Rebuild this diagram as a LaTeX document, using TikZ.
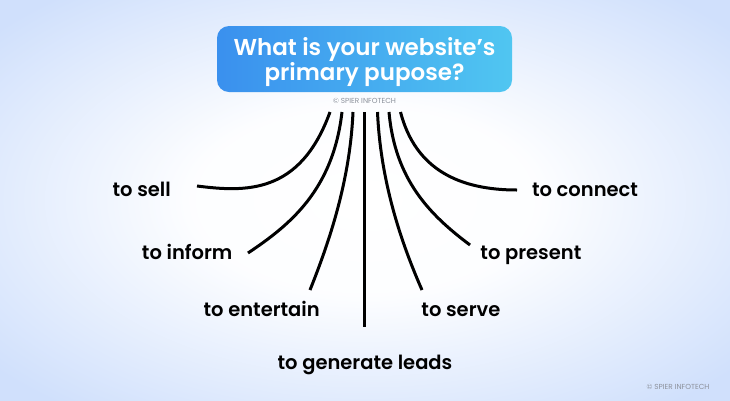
\documentclass[tikz,border=0pt]{standalone}
\usepackage{fontspec}
\setmainfont{Poppins}[BoldFont={Poppins SemiBold}]
\usepackage{xcolor}
\usepackage{tikz}
\usetikzlibrary{positioning,calc}

\definecolor{bgblue}{HTML}{D0E0FC}
\definecolor{boxleft}{HTML}{3A90EE}
\definecolor{boxright}{HTML}{50C6F1}
\definecolor{markgray}{HTML}{8C919B}
\pgfdeclareradialshading{bgglow}{\pgfpoint{0bp}{0bp}}{color(0bp)=(white); color(12bp)=(white!95!bgblue); color(33bp)=(bgblue); color(50bp)=(bgblue)}

\begin{document}
\begin{tikzpicture}[x=1pt,y=-1pt,
  branch/.style={line width=3pt},
  goal/.style={font=\bfseries\fontsize{19.5}{22}\selectfont,anchor=base,inner sep=0pt},
  watermark/.style={font=\fontsize{7.3}{8}\selectfont,text=markgray,inner sep=0pt}]
  \useasboundingbox (0,0) rectangle (730,400);
  \shade[shading=bgglow] (0,0) rectangle (730,400);

  \node[shade,left color=boxleft,right color=boxright,rounded corners=12pt,
        minimum width=295pt,minimum height=66pt,text=white,align=center,text depth=0pt,
        font=\bfseries\fontsize{23}{24}\selectfont] (question) at (364.5,59)
        {What is your website’s\\primary pupose?};
  \node[watermark,below=6pt of question] (credit) {© SPIER INFOTECH};
  \node[watermark] (corner) at (678,386.7) {© SPIER INFOTECH};

  \coordinate (s1) at (330,112);
  \coordinate (s2) at (342,112);
  \coordinate (s3) at (353,112);
  \coordinate (s4) at (364.5,112);
  \coordinate (s5) at (377.5,112);
  \coordinate (s6) at (389,112);
  \coordinate (s7) at (400.5,112);

  \node[goal] (sell) at (141.7,196) {to sell};
  \node[goal] (inform) at (187.2,259) {to inform};
  \node[goal] (entertain) at (261.7,316.7) {to entertain};
  \node[goal] (leads) at (365,369) {to generate leads};
  \node[goal] (serve) at (460.9,316.7) {to serve};
  \node[goal] (present) at (530.9,259.3) {to present};
  \node[goal] (connect) at (585,196) {to connect};

  \coordinate (e1) at (197,186);
  \coordinate (e2) at (248,253);
  \coordinate (e3) at (310,290);
  \coordinate (e4) at (364.5,327);
  \coordinate (e5) at (422,290);
  \coordinate (e6) at (470,245);
  \coordinate (e7) at (517,190);

  \draw[branch] (s1) .. controls +(-30,83) and +(48,6) .. (e1);
  \draw[branch] (s2) .. controls +(-9,78) and +(42,-28) .. (e2);
  \draw[branch] (s3) .. controls +(-3,68) and +(20,-50) .. (e3);
  \draw[branch] (s4) -- (e4);
  \draw[branch] (s5) .. controls +(3,68) and +(-22,-50) .. (e5);
  \draw[branch] (s6) .. controls +(6,68) and +(-40,-30) .. (e6);
  \draw[branch] (s7) .. controls +(15,58) and +(-57,0) .. (e7);
\end{tikzpicture}
\end{document}
